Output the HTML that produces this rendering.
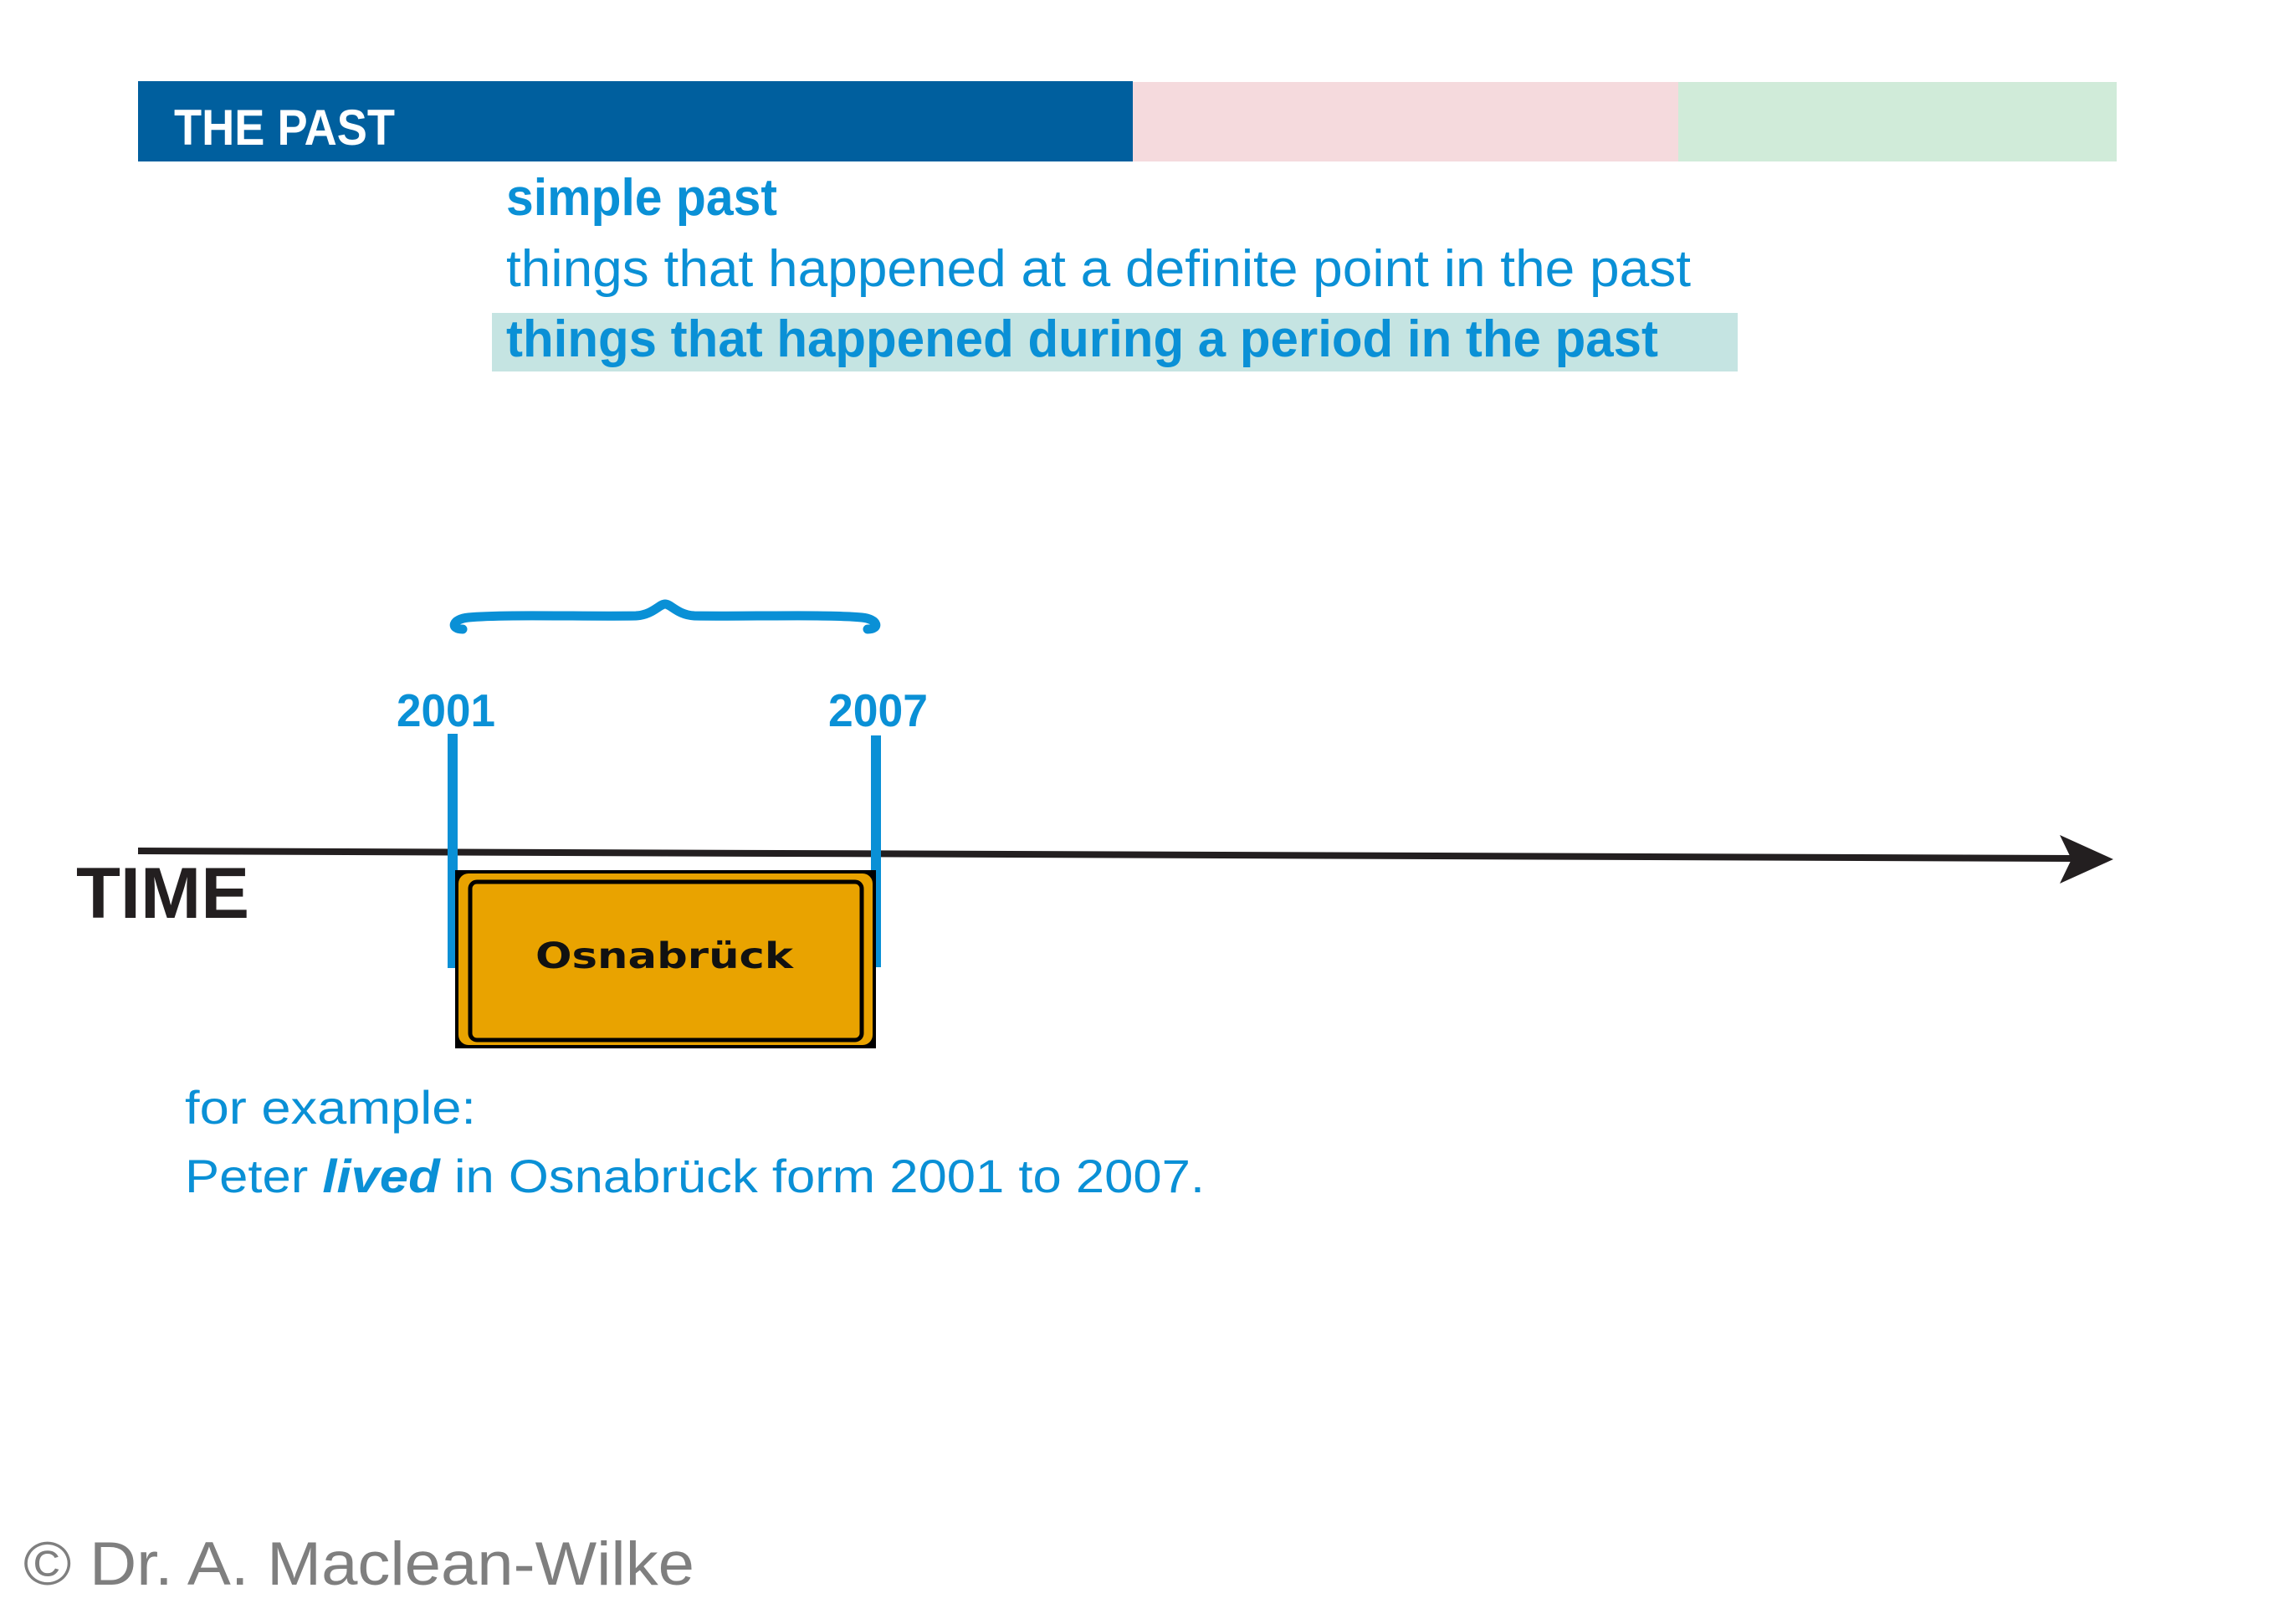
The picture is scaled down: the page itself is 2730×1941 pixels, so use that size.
<!DOCTYPE html>
<html><head><meta charset="utf-8"><style>
html,body{margin:0;padding:0;background:#fff;width:2730px;height:1941px;overflow:hidden}
svg{display:block}
text{font-family:"Liberation Sans",sans-serif}
</style></head><body>
<svg width="2730" height="1941" viewBox="0 0 2730 1941" xmlns="http://www.w3.org/2000/svg">
<rect x="165" y="97" width="1189" height="96" fill="#005f9e"/>
<rect x="1354" y="98" width="652" height="95" fill="#f5dadd"/>
<rect x="2006" y="98" width="524" height="95" fill="#d0ebd9"/>
<text x="208" y="173" font-size="60" font-weight="bold" fill="#fff" textLength="264" lengthAdjust="spacingAndGlyphs">THE PAST</text>
<rect x="588" y="374" width="1489" height="70" fill="#c5e4e2"/>
<text x="605" y="257" font-size="62" font-weight="bold" fill="#0a90d6" textLength="324" lengthAdjust="spacingAndGlyphs">simple past</text>
<text x="605" y="342" font-size="62" fill="#0a90d6" textLength="1416" lengthAdjust="spacingAndGlyphs">things that happened at a definite point in the past</text>
<text x="605" y="426" font-size="62" font-weight="bold" fill="#0a90d6" textLength="1377" lengthAdjust="spacingAndGlyphs">things that happened during a period in the past</text>
<path d="M553 752 C538 752 540 740 560 738 C600 734 700 737 760 736 C780 735 788 722 795 722 C802 722 810 735 830 736 C890 737 990 734 1030 738 C1050 740 1052 752 1037 752" fill="none" stroke="#0a90d6" stroke-width="11" stroke-linecap="round"/>
<text x="474" y="868" font-size="55" font-weight="bold" fill="#0a90d6" textLength="118" lengthAdjust="spacingAndGlyphs">2001</text>
<text x="990" y="868" font-size="55" font-weight="bold" fill="#0a90d6" textLength="119" lengthAdjust="spacingAndGlyphs">2007</text>
<line x1="165" y1="1017" x2="2480" y2="1026" stroke="#231f20" stroke-width="8"/>
<polygon points="2462,998 2526,1027 2462,1056 2476,1027" fill="#231f20"/>
<text x="91" y="1097" font-size="86" font-weight="bold" fill="#231f20" textLength="207" lengthAdjust="spacingAndGlyphs">TIME</text>
<rect x="535" y="877" width="12" height="280" fill="#0a90d6"/>
<rect x="1041" y="879" width="12" height="277" fill="#0a90d6"/>
<rect x="544" y="1040" width="503" height="213" fill="#000"/>
<rect x="548" y="1044" width="495" height="205" rx="12" fill="#e9a300"/>
<rect x="562" y="1054" width="468" height="189" rx="8" fill="none" stroke="#000" stroke-width="5"/>
<text x="640" y="1157" font-size="43" font-weight="bold" fill="#111" font-family="DejaVu Sans" textLength="308" lengthAdjust="spacingAndGlyphs" style="font-family:'DejaVu Sans',sans-serif">Osnabrück</text>
<text x="221" y="1343" font-size="56" fill="#0a90d6" textLength="348" lengthAdjust="spacingAndGlyphs">for example:</text>
<text x="221" y="1425" font-size="56" fill="#0a90d6" textLength="1219" lengthAdjust="spacingAndGlyphs">Peter <tspan font-weight="bold" font-style="italic">lived</tspan> in Osnabrück form 2001 to 2007.</text>
<text x="28" y="1894" font-size="73" fill="#7f7f7f" textLength="802" lengthAdjust="spacingAndGlyphs">© Dr. A. Maclean-Wilke</text>
</svg>
</body></html>
